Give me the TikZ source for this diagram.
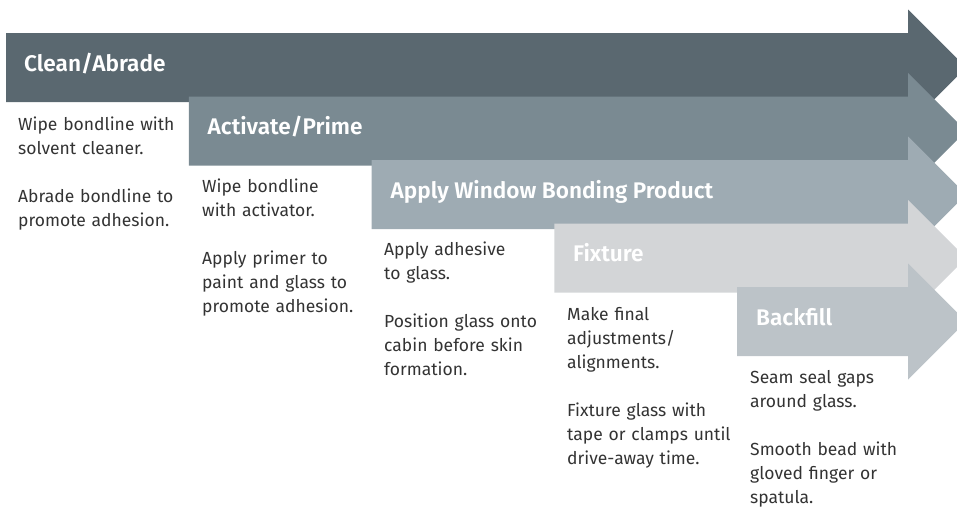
\documentclass[tikz,border=0pt]{standalone}
\usepackage{fontspec}
\setmainfont{Fira Sans}
\newfontfamily\titlefont{Fira Sans SemiBold}
\usepackage{tikz}
\usetikzlibrary{positioning}

\definecolor{stepone}{HTML}{5A6870}
\definecolor{steptwo}{HTML}{7A8A92}
\definecolor{stepthree}{HTML}{9EABB3}
\definecolor{stepfour}{HTML}{D3D5D7}
\definecolor{stepfive}{HTML}{BCC3C8}
\definecolor{bodygray}{HTML}{333333}

% one process arrow: left x, top y, colour
\newcommand{\procarrow}[3]{%
  \fill[#3] (#1,#2) -- (908,#2) -- (908,#2+34.5-58) -- (966,#2+34.5)
            -- (908,#2+34.5+58) -- (908,#2+69) -- (#1,#2+69) -- cycle;}

\begin{document}
\begin{tikzpicture}[x=1pt, y=-1pt]
    \tikzstyle{steptitle}=[anchor=base west, inner sep=0pt, text=white,
                           font=\titlefont\fontsize{22.6}{26}\selectfont]
    \tikzstyle{steptext}=[anchor=base west, inner sep=0pt, text width=178pt,
                          align=left, text=bodygray,
                          font=\fontsize{17.5}{24}\selectfont]

    \useasboundingbox (0,0) rectangle (957,506);
    \clip (0,0) rectangle (957,506);

    \procarrow{6}{33}{stepone}
    \procarrow{188.75}{96.5}{steptwo}
    \procarrow{371.5}{160}{stepthree}
    \procarrow{554.25}{223.5}{stepfour}
    \procarrow{737}{287}{stepfive}

    \node[steptitle] (clean)    at (24,71)      {Clean/Abrade};
    \node[steptitle] (activate) at (207.5,134.5) {Activate/Prime};
    \node[steptitle] (apply)    at (390.5,198)  {Apply Window Bonding Product};
    \node[steptitle] (fixture)  at (573,261.5)  {Fixture};
    \node[steptitle] (backfill) at (756,325)    {Backfill};

    \node[steptext] (cleantext)    at (18,130)  {Wipe bondline with\\solvent cleaner.\\[24pt]
                                                 Abrade bondline to\\promote adhesion.};
    \node[steptext] (activatetext) at (202,192) {Wipe bondline\\with activator.\\[24pt]
                                                 Apply primer to\\paint and glass to\\promote adhesion.};
    \node[steptext] (applytext)    at (384,255) {Apply adhesive\\to glass.\\[24pt]
                                                 Position glass onto\\cabin before skin\\formation.};
    \node[steptext] (fixturetext)  at (567,320) {Make final\\adjustments/\\alignments.\\[24pt]
                                                 Fixture glass with\\tape or clamps until\\drive-away time.};
    \node[steptext] (backfilltext) at (750,383) {Seam seal gaps\\around glass.\\[24pt]
                                                 Smooth bead with\\gloved finger or\\spatula.};
\end{tikzpicture}
\end{document}
